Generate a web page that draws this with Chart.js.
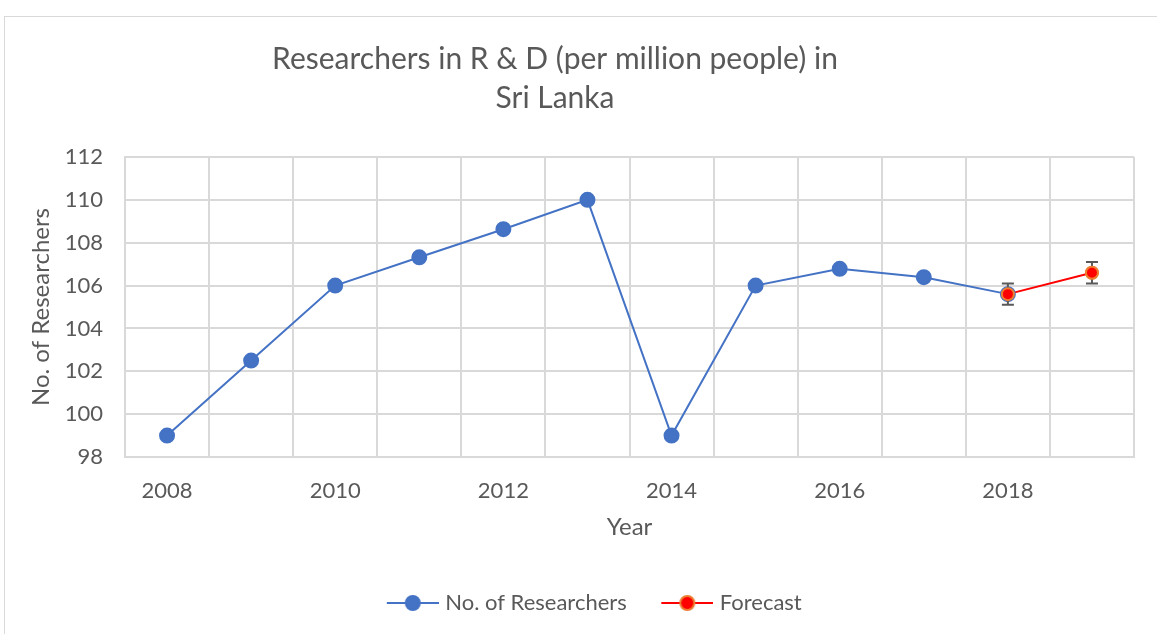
<!DOCTYPE html>
<html>
<head>
<meta charset="utf-8">
<script src="https://cdn.jsdelivr.net/npm/chart.js@4/dist/chart.umd.min.js"></script>
<style>
  body { margin: 0; background: #fff; }
  #wrap { position: relative; width: 1157px; height: 634px; overflow: hidden; }
  #frame { position: absolute; left: 4px; top: 16px; width: 1200px; height: 700px; border: 1px solid #d9d9d9; }
  #graficLine { position: absolute; left: 0; top: 0; }
</style>
</head>
<body>
<div id="wrap">
  <div id="frame"></div>
  <canvas id="graficLine" width="1157" height="634"></canvas>
</div>
<script>
var years = ['2008','2009','2010','2011','2012','2013','2014','2015','2016','2017','2018','2019'];
var researchers = [99, 102.5, 106, 107.32, 108.63, 110, 99, 106, 106.78, 106.39, 105.6, null];
var forecast = [null, null, null, null, null, null, null, null, null, null, 105.6, 106.6];
var forecastError = [null, null, null, null, null, null, null, null, null, null, 0.5, 0.5];
var yTicks = [98, 100, 102, 104, 106, 108, 110, 112];
var titleLines = ['Researchers in R & D (per million people) in', 'Sri Lanka'];

var textColor = '#595959';
var gridColor = '#d9d9d9';
var fontName = 'Lato, "Open Sans", sans-serif';

// legend icon: line with a dot, blank space on the left to spread the items
function legendIcon(lineColor, fill, border) {
  var c = document.createElement('canvas');
  c.width = 79; c.height = 20;
  var x = c.getContext('2d');
  x.strokeStyle = lineColor;
  x.lineWidth = 2;
  x.beginPath(); x.moveTo(27, 10); x.lineTo(79, 10); x.stroke();
  x.fillStyle = fill;
  x.strokeStyle = border;
  x.lineWidth = 2;
  x.beginPath(); x.arc(53, 10, 7, 0, Math.PI * 2); x.fill(); x.stroke();
  return c;
}

var errorBars = {
  id: 'errorBars',
  afterDatasetsDraw: function(chart) {
    var ctx = chart.ctx;
    var meta = chart.getDatasetMeta(1);
    var ys = chart.scales.y;
    ctx.save();
    ctx.strokeStyle = '#595959';
    ctx.lineWidth = 2;
    meta.data.forEach(function(pt, i) {
      var v = forecast[i], e = forecastError[i];
      if (v == null || e == null) return;
      var top = ys.getPixelForValue(v + e), bot = ys.getPixelForValue(v - e);
      ctx.beginPath();
      ctx.moveTo(pt.x, top); ctx.lineTo(pt.x, bot);
      ctx.moveTo(pt.x - 6, top); ctx.lineTo(pt.x + 6, top);
      ctx.moveTo(pt.x - 6, bot); ctx.lineTo(pt.x + 6, bot);
      ctx.stroke();
    });
    ctx.restore();
    // points on top of the bars
    meta.data.forEach(function(pt) { if (!pt.skip) pt.draw(ctx); });
  }
};

var titlePlugin = {
  id: 'titleLines',
  afterDraw: function(chart) {
    var ctx = chart.ctx;
    ctx.save();
    ctx.fillStyle = textColor;
    ctx.font = '30px ' + fontName;
    ctx.textAlign = 'center';
    ctx.textBaseline = 'middle';
    ctx.fillText(titleLines[0], 555, 59);
    ctx.fillText(titleLines[1], 555, 98);
    ctx.restore();
  }
};

var cxt = new Chart(document.getElementById('graficLine'), {
  type: 'line',
  data: {
    labels: years,
    datasets: [
      {
        label: 'No. of Researchers',
        data: researchers,
        borderColor: '#4472C4',
        backgroundColor: '#4472C4',
        pointBackgroundColor: '#4472C4',
        pointBorderColor: '#4472C4',
        borderWidth: 2,
        pointRadius: 7,
        tension: 0
      },
      {
        label: 'Forecast',
        data: forecast,
        borderColor: '#FF0000',
        backgroundColor: '#FF0000',
        pointBackgroundColor: '#FF0000',
        pointBorderColor: '#ED7D31',
        pointBorderWidth: 2,
        borderWidth: 2,
        pointRadius: 6,
        tension: 0
      }
    ]
  },
  options: {
    responsive: false,
    animation: false,
    layout: { padding: { left: 32, right: 23, top: 157, bottom: 10 } },
    plugins: {
      title: { display: false },
      tooltip: { enabled: false },
      legend: {
        position: 'bottom',
        labels: {
          color: textColor,
          font: { family: fontName, size: 22 },
          usePointStyle: true,
          pointStyleWidth: 70,
          padding: 12,
          generateLabels: function(chart) {
            return [
              { text: 'No. of Researchers', pointStyle: legendIcon('#4472C4', '#4472C4', '#4472C4'), fontColor: textColor, datasetIndex: 0, lineWidth: 0 },
              { text: 'Forecast', pointStyle: legendIcon('#FF0000', '#FF0000', '#ED7D31'), fontColor: textColor, datasetIndex: 1, lineWidth: 0 }
            ];
          }
        }
      }
    },
    scales: {
      x: {
        type: 'category',
        offset: true,
        grid: { color: gridColor, offset: true, drawTicks: false, lineWidth: 2 },
        border: { color: gridColor, width: 2 },
        ticks: {
          color: textColor,
          font: { family: fontName, size: 22 },
          autoSkip: false,
          maxRotation: 0,
          padding: 21,
          callback: function(val, i) { return i % 2 === 0 ? years[i] : ''; }
        },
        title: {
          display: true,
          text: 'Year',
          color: textColor,
          font: { family: fontName, size: 24 },
          padding: { top: 0, bottom: 38 }
        },
        afterFit: function(scale) { scale.height = 123; }
      },
      y: {
        min: 98,
        max: 112,
        afterBuildTicks: function(scale) { scale.ticks = yTicks.map(function(v) { return { value: v }; }); },
        grid: { color: gridColor, drawTicks: false, lineWidth: 2 },
        border: { color: gridColor, width: 2 },
        ticks: {
          color: textColor,
          font: { family: fontName, size: 22 },
          padding: 22
        },
        title: {
          display: true,
          text: 'No. of Researchers',
          color: textColor,
          font: { family: fontName, size: 24 },
          padding: { top: -5, bottom: 0 }
        },
        afterFit: function(scale) { scale.width = 93; }
      }
    }
  },
  plugins: [errorBars, titlePlugin]
});
</script>
</body>
</html>
